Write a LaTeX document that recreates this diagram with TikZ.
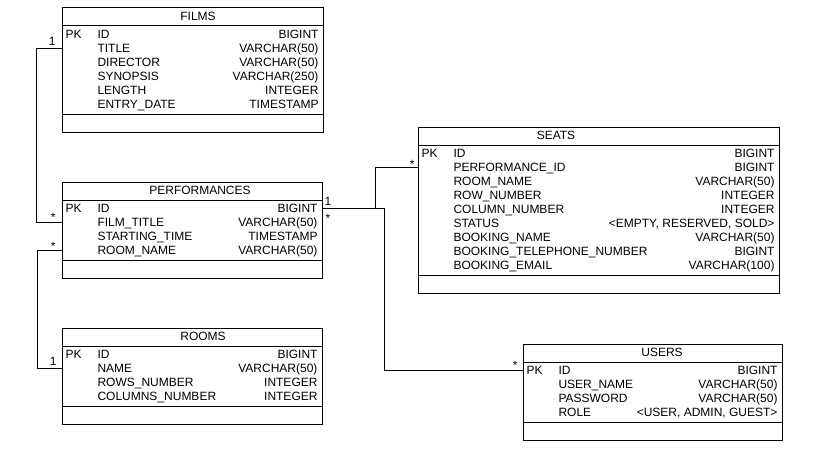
\documentclass[tikz,border=0pt]{standalone}
\usepackage{fontspec}
\setmainfont{Liberation Sans}
\usepackage{tikz}

\begin{document}
\begin{tikzpicture}[x=1pt, y=-1pt, line width=1pt,
  every node/.style = {font=\fontsize{12pt}{14pt}\selectfont, inner sep=0pt},
  entity/.style = {draw, rectangle, anchor=north west, outer sep=0pt},
  tabletitle/.style = {anchor=base},
  pkey/.style = {anchor=base west},
  fname/.style = {anchor=base west, text height=9.6pt, text depth=1pt},
  ftype/.style = {anchor=base east},
  multl/.style = {anchor=base east, xshift=-5pt},
  multr/.style = {anchor=base west, xshift=2pt}]
  \useasboundingbox (0,0) rectangle (816,460);

  % FILMS
  \node[entity, minimum width=261pt, minimum height=124pt] (films) at (62,8) {};
  \draw ([yshift=-18pt]films.north west) -- ([yshift=-18pt]films.north east);
  \draw ([yshift=18pt]films.south west) -- ([yshift=18pt]films.south east);
  \node[tabletitle] (films-title) at (198,20.5) {FILMS};
  \node[pkey] (films-pk) at (65,24.5+14) {PK};
  \foreach \fld/\typ [count=\i] in {ID/BIGINT, TITLE/VARCHAR(50),
      DIRECTOR/VARCHAR(50), SYNOPSIS/VARCHAR(250), LENGTH/INTEGER,
      ENTRY\_DATE/TIMESTAMP}
    {
      \node[fname] (films-\i) at (97,24.5+14*\i) {\fld};
      \node[ftype] (films-t\i) at (319,24.5+14*\i) {\typ};
    }

  % PERFORMANCES
  \node[entity, minimum width=260pt, minimum height=96pt] (perf) at (62,182) {};
  \draw ([yshift=-18pt]perf.north west) -- ([yshift=-18pt]perf.north east);
  \draw ([yshift=18pt]perf.south west) -- ([yshift=18pt]perf.south east);
  \node[tabletitle] (perf-title) at (200,194.5) {PERFORMANCES};
  \node[pkey] (perf-pk) at (65,198.5+14) {PK};
  \foreach \fld/\typ [count=\i] in {ID/BIGINT, FILM\_TITLE/VARCHAR(50),
      STARTING\_TIME/TIMESTAMP, ROOM\_NAME/VARCHAR(50)}
    {
      \node[fname] (perf-\i) at (97,198.5+14*\i) {\fld};
      \node[ftype] (perf-t\i) at (318,198.5+14*\i) {\typ};
    }

  % ROOMS
  \node[entity, minimum width=260pt, minimum height=96pt] (rooms) at (62,328) {};
  \draw ([yshift=-18pt]rooms.north west) -- ([yshift=-18pt]rooms.north east);
  \draw ([yshift=18pt]rooms.south west) -- ([yshift=18pt]rooms.south east);
  \node[tabletitle] (rooms-title) at (203,340.5) {ROOMS};
  \node[pkey] (rooms-pk) at (65,344.5+14) {PK};
  \foreach \fld/\typ [count=\i] in {ID/BIGINT, NAME/VARCHAR(50),
      ROWS\_NUMBER/INTEGER, COLUMNS\_NUMBER/INTEGER}
    {
      \node[fname] (rooms-\i) at (97,344.5+14*\i) {\fld};
      \node[ftype] (rooms-t\i) at (318,344.5+14*\i) {\typ};
    }

  % SEATS
  \node[entity, minimum width=361pt, minimum height=166pt] (seats) at (418,127) {};
  \draw ([yshift=-18pt]seats.north west) -- ([yshift=-18pt]seats.north east);
  \draw ([yshift=18pt]seats.south west) -- ([yshift=18pt]seats.south east);
  \node[tabletitle] (seats-title) at (556,139.5) {SEATS};
  \node[pkey] (seats-pk) at (421,143.5+14) {PK};
  \foreach \fld/\typ [count=\i] in {ID/BIGINT, PERFORMANCE\_ID/BIGINT,
      ROOM\_NAME/VARCHAR(50), ROW\_NUMBER/INTEGER, COLUMN\_NUMBER/INTEGER,
      STATUS/{<EMPTY, RESERVED, SOLD>}, BOOKING\_NAME/VARCHAR(50),
      BOOKING\_TELEPHONE\_NUMBER/BIGINT, BOOKING\_EMAIL/VARCHAR(100)}
    {
      \node[fname] (seats-\i) at (453,143.5+14*\i) {\fld};
      \node[ftype] (seats-t\i) at (775,143.5+14*\i) {\typ};
    }

  % USERS
  \node[entity, minimum width=259pt, minimum height=96pt] (users) at (523,344) {};
  \draw ([yshift=-18pt]users.north west) -- ([yshift=-18pt]users.north east);
  \draw ([yshift=18pt]users.south west) -- ([yshift=18pt]users.south east);
  \node[tabletitle] (users-title) at (662,356.5) {USERS};
  \node[pkey] (users-pk) at (526,360.5+14) {PK};
  \foreach \fld/\typ [count=\i] in {ID/BIGINT, USER\_NAME/VARCHAR(50),
      PASSWORD/VARCHAR(50), ROLE/{<USER, ADMIN, GUEST>}}
    {
      \node[fname] (users-\i) at (558,360.5+14*\i) {\fld};
      \node[ftype] (users-t\i) at (778,360.5+14*\i) {\typ};
    }

  % relations
  \draw (films.west |- films-2) node[multl, xshift=-1pt, yshift=3pt] (films-m) {1}
    -- ++(-26,0) |- (perf.west |- perf-2) node[multl, xshift=-1pt, yshift=1pt] (perf-m1) {*};
  \draw (perf.west |- perf-4) node[multl, xshift=-1pt] (perf-m2) {*}
    -- ++(-25,0) |- (rooms.west |- rooms-2) node[multl, yshift=2.3pt] (rooms-m) {1};
  \draw (perf.east |- perf-1) node[multr, yshift=2.6pt] (perf-m3) {1}
    -- ++(53,0) |- (seats.west |- seats-2) node[multl, xshift=2pt, yshift=-1pt] (seats-m) {*};
  \draw (perf.east |- perf-1) node[multr, xshift=1pt, yshift=-14pt] (perf-m4) {*}
    -- ++(62,0) |- (users.west |- users-1) node[multl, yshift=1pt] (users-m) {*};
\end{tikzpicture}
\end{document}
